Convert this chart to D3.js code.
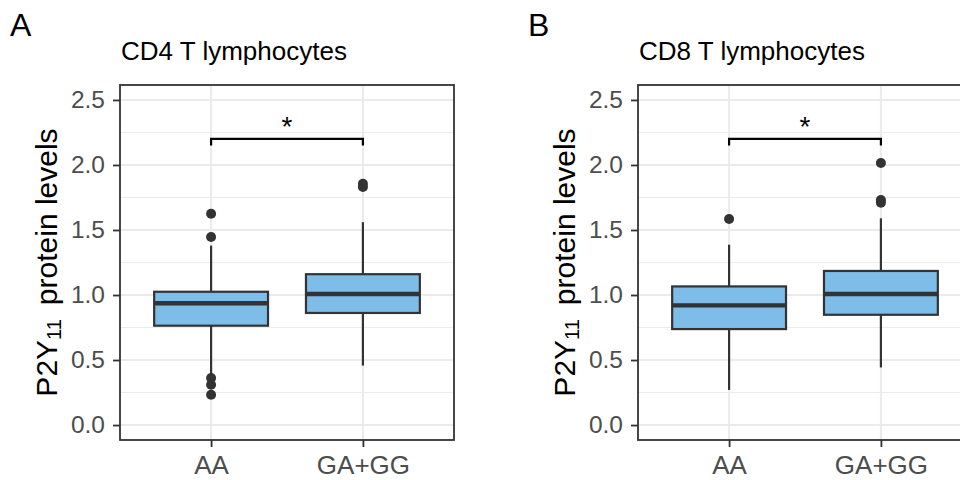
<!DOCTYPE html>
<html>
<head>
<meta charset="utf-8">
<script src="https://cdn.jsdelivr.net/npm/d3@7"></script>
<style>
body { margin: 0; background: #fff; }
text { font-family: "Liberation Sans", Arial, sans-serif; }
</style>
</head>
<body>
<div id="chart"></div>
<script>
const panelLetters = ["A", "B"];
const panelTitles = ["CD4 T lymphocytes", "CD8 T lymphocytes"];
const groups = ["AA", "GA+GG"];
const yTicks = [0, 0.5, 1.0, 1.5, 2.0, 2.5];
const yMinorTicks = [0.25, 0.75, 1.25, 1.75, 2.25];

// box stats per group: [lower whisker, q1, median, q3, upper whisker]
const cd4Boxes = [[0.39, 0.764, 0.937, 1.025, 1.38], [0.457, 0.862, 1.008, 1.16, 1.56]];
const cd8Boxes = [[0.27, 0.738, 0.92, 1.066, 1.387], [0.443, 0.848, 1.008, 1.185, 1.59]];
const cd4Outliers = [[1.625, 1.446, 0.362, 0.31, 0.233], [1.855, 1.83]];
const cd8Outliers = [[1.585], [2.015, 1.73, 1.71]];
// significance bracket: [bottom of tips, top line]
const bracket = [2.15, 2.2];
const sigLabels = ["*", "*"];

const boxes = [cd4Boxes, cd8Boxes];
const outliers = [cd4Outliers, cd8Outliers];

var margin = ({top: 85, left: 120});
var width = 334, height = 355;
var panelOffset = 518;

var svg = d3.select("#chart").append("svg")
    .attr("width", 960)
    .attr("height", 480);

svg.append("rect").attr("width", 960).attr("height", 480).attr("fill", "#fff");

const yScale = d3.scaleLinear()
    .domain([-0.115, 2.615])
    .range([height, 0]);

const xScale = d3.scalePoint()
    .domain(groups)
    .range([0, width])
    .padding(0.6);

const boxHalf = xScale.step() * 0.75 / 2;
const dark = "#333333";

panelLetters.forEach(function(letter, p) {
    const g = svg.append("g")
        .attr("transform", `translate(${margin.left + p * panelOffset},${margin.top})`);

    // panel letter + title
    g.append("text")
        .attr("x", -110).attr("y", -49)
        .attr("font-size", 32)
        .attr("fill", "#000")
        .text(letter);

    g.append("text")
        .attr("x", 1).attr("y", -25)
        .attr("font-size", 26)
        .attr("fill", "#000")
        .text(panelTitles[p]);

    // grid
    g.selectAll(".minor").data(yMinorTicks).enter().append("line")
        .attr("x1", 0).attr("x2", width)
        .attr("y1", d => yScale(d)).attr("y2", d => yScale(d))
        .attr("stroke", "#EBEBEB").attr("stroke-width", 1);

    g.selectAll(".major").data(yTicks).enter().append("line")
        .attr("x1", 0).attr("x2", width)
        .attr("y1", d => yScale(d)).attr("y2", d => yScale(d))
        .attr("stroke", "#EBEBEB").attr("stroke-width", 2);

    g.selectAll(".vgrid").data(groups).enter().append("line")
        .attr("x1", d => xScale(d)).attr("x2", d => xScale(d))
        .attr("y1", 0).attr("y2", height)
        .attr("stroke", "#EBEBEB").attr("stroke-width", 2);

    // boxes
    const bx = g.selectAll(".box").data(boxes[p]).enter().append("g")
        .attr("transform", (d, i) => `translate(${xScale(groups[i])},0)`);

    bx.append("line")
        .attr("y1", d => yScale(d[0])).attr("y2", d => yScale(d[1]))
        .attr("stroke", dark).attr("stroke-width", 2.2);
    bx.append("line")
        .attr("y1", d => yScale(d[3])).attr("y2", d => yScale(d[4]))
        .attr("stroke", dark).attr("stroke-width", 2.2);

    bx.append("rect")
        .attr("x", -boxHalf).attr("width", boxHalf * 2)
        .attr("y", d => yScale(d[3]))
        .attr("height", d => yScale(d[1]) - yScale(d[3]))
        .attr("fill", "#7EBDE8")
        .attr("stroke", dark).attr("stroke-width", 2.2);

    bx.append("line")
        .attr("x1", -boxHalf).attr("x2", boxHalf)
        .attr("y1", d => yScale(d[2])).attr("y2", d => yScale(d[2]))
        .attr("stroke", dark).attr("stroke-width", 4.4);

    // outliers
    outliers[p].forEach(function(vals, i) {
        g.selectAll(null).data(vals).enter().append("circle")
            .attr("cx", xScale(groups[i]))
            .attr("cy", d => yScale(d))
            .attr("r", 5)
            .attr("fill", dark);
    });

    // significance bracket
    const x1 = xScale(groups[0]), x2 = xScale(groups[1]);
    g.append("path")
        .attr("d", `M${x1},${yScale(bracket[0])}V${yScale(bracket[1])}H${x2}V${yScale(bracket[0])}`)
        .attr("fill", "none")
        .attr("stroke", "#000").attr("stroke-width", 2.2);
    g.append("text")
        .attr("x", (x1 + x2) / 2).attr("y", yScale(bracket[1]) - 3)
        .attr("text-anchor", "middle")
        .attr("font-size", 28)
        .attr("fill", "#000")
        .text(sigLabels[p]);

    // border
    g.append("rect")
        .attr("width", width).attr("height", height)
        .attr("fill", "none")
        .attr("stroke", dark).attr("stroke-width", 1.8);

    // axes
    const yAxis = d3.axisLeft(yScale)
        .tickValues(yTicks)
        .tickSize(7).tickPadding(8)
        .tickFormat(d3.format(".1f"));
    const ya = g.append("g").attr("class", "axis y-axis").call(yAxis);

    const xAxis = d3.axisBottom(xScale)
        .tickSize(7).tickPadding(9);
    const xa = g.append("g").attr("class", "axis x-axis")
        .attr("transform", `translate(0,${height})`)
        .call(xAxis);

    [ya, xa].forEach(function(a) {
        a.select(".domain").remove();
        a.selectAll(".tick line").attr("stroke", dark).attr("stroke-width", 1.8);
        a.selectAll(".tick text")
            .attr("font-size", a === xa ? 26 : 24.5)
            .attr("font-family", "'Liberation Sans', Arial, sans-serif")
            .attr("fill", "#4D4D4D");
    });

    // y axis title with subscript
    const yt = g.append("text")
        .attr("transform", `translate(-63,${height / 2}) rotate(-90)`)
        .attr("text-anchor", "middle")
        .attr("font-size", 30)
        .attr("fill", "#000");
    yt.append("tspan").text("P2Y");
    yt.append("tspan").attr("font-size", 20).attr("dy", 4).text("11");
    yt.append("tspan").attr("dy", -4).attr("dx", 14).text("protein levels");
});
</script>
</body>
</html>
